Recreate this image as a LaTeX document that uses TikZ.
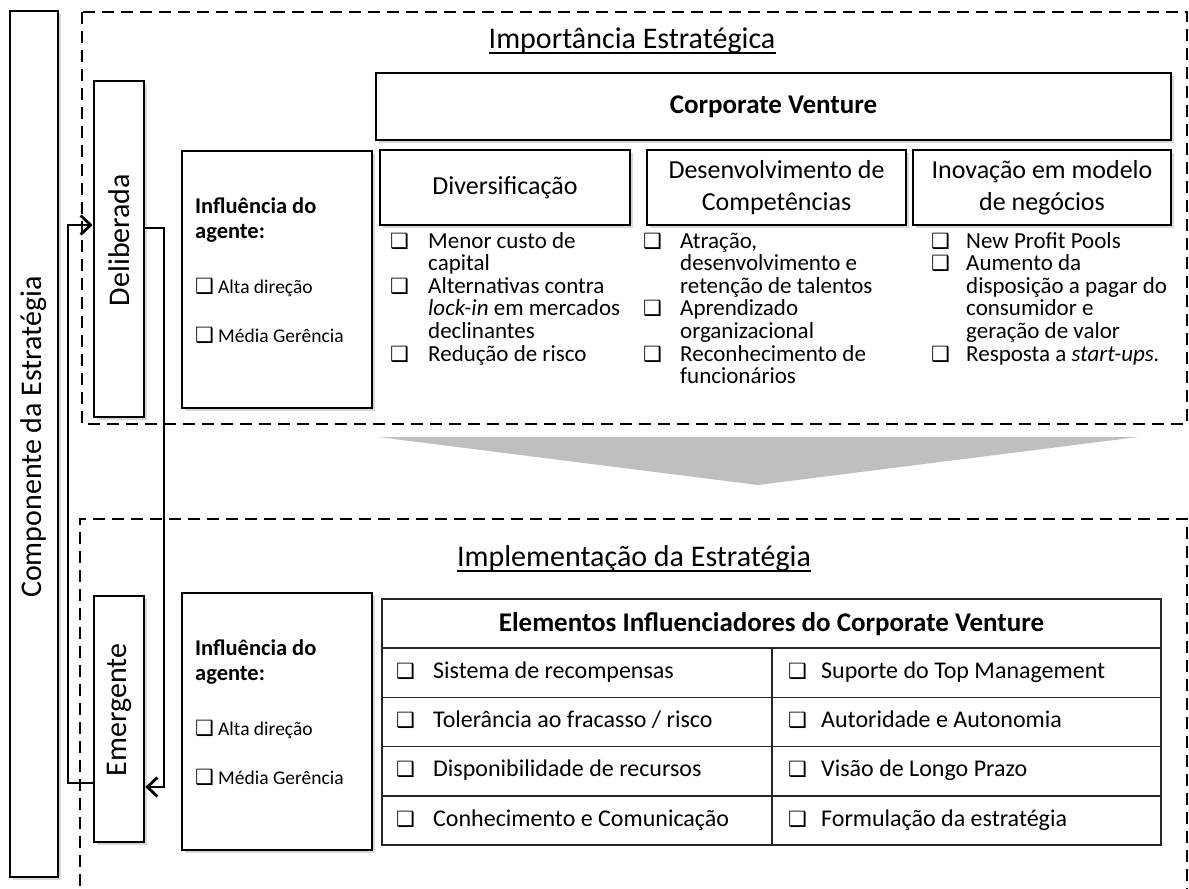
\documentclass[tikz,border=0pt]{standalone}
\usepackage{fontspec}
\setmainfont{Carlito}
\newfontfamily\symfont{DejaVu Sans}
\usepackage{graphicx}
\usetikzlibrary{arrows.meta,shadows}
\definecolor{arrowgray}{HTML}{BFBFBF}
\newcommand{\chk}{{\symfont\fontsize{21pt}{21pt}\selectfont ❑}}
% one bullet column: name, box x, text x, {flag/line,...}
\newcommand{\blist}[4]{%
  \foreach \c/\t [count=\i] in {#4}{
    \node[listtxt,anchor=base west] (#1\i) at (#3,225.4+22.6*\i) {\t};
    \ifnum\c=1 \node[listtxt,anchor=base west] (#1c\i) at (#2,225.4+22.6*\i) {\chk};\fi
  }}

\tikzset{
  sbox/.style={draw,line width=2.6pt,fill=white,inner sep=0pt,
    drop shadow={shadow xshift=2.5pt,shadow yshift=-2.5pt,opacity=.3}},
  dbox/.style={line width=2.8pt,dash pattern=on 12pt off 7pt},
  arr/.style={line width=2.8pt,-{Straight Barb[length=10pt,width=19pt]}},
  bigtxt/.style={font=\fontsize{30pt}{36pt}\selectfont,inner sep=0pt},
  vtxt/.style={font=\fontsize{30pt}{36pt}\selectfont},
  cvtxt/.style={font=\fontsize{26pt}{32pt}\selectfont,align=center},
  listtxt/.style={font=\fontsize{23pt}{26pt}\selectfont,inner sep=0pt},
  agbold/.style={font=\bfseries\fontsize{22.5pt}{25pt}\selectfont,inner sep=0pt},
  agopt/.style={font=\fontsize{19.5pt}{23pt}\selectfont,inner sep=0pt},
  rowtxt/.style={font=\fontsize{24pt}{28pt}\selectfont,inner sep=0pt},
  tline/.style={line width=1.5pt,black!85}
}

\begin{document}
\begin{tikzpicture}[x=1pt,y=-1pt]
  \useasboundingbox (0,0) rectangle (1189,889);
  \fill[white] (0,0) rectangle (1189,889);
  % dashed frames
  \draw[dbox] (82,12) rectangle (1187,424);
  \draw[dbox] (1187,900) -- (1187,519) -- (80,519) -- (80,900);
  \fill[arrowgray] (378,437) -- (1138,437) -- (758,485) -- cycle;
  % left column
  \node[sbox,vtxt,minimum width=48pt,minimum height=866pt] (comp) at (34,444)
    {\rotatebox{90}{\hspace*{14pt}Componente da Estratégia}};
  \node[sbox,vtxt,minimum width=50pt,minimum height=336pt] (delib) at (119,249)
    {\rotatebox{90}{\hspace*{18pt}Deliberada}};
  \node[sbox,vtxt,minimum width=50pt,minimum height=246pt] (emer) at (119,719)
    {\rotatebox{90}{\hspace*{18pt}Emergente}};
  \coordinate (bendL1) at (68,783);
  \coordinate (bendL2) at (68,225);
  \coordinate (bendR1) at (164,228);
  \coordinate (bendR2) at (164,787);
  \draw[arr] (emer.west |- bendL1) -- (bendL1) -- (bendL2) -- (delib.west |- bendL2);
  \draw[arr] (delib.east |- bendR1) -- (bendR1) -- (bendR2) -- (emer.east |- bendR2);
  % agent boxes
  \foreach \dy/\nm in {0/T,442/B}{
    \node[sbox,minimum width=190pt,minimum height=257pt] (ag\nm) at (277,279.5+\dy) {};
    \node[agbold,anchor=base west] (ag\nm a) at (195,213+\dy) {Influência do};
    \node[agbold,anchor=base west] (ag\nm b) at (195,238+\dy) {agente:};
    \node[agopt,anchor=base west] (ag\nm c) at (195,293+\dy)
      {\makebox[23pt][l]{\chk}Alta direção};
    \node[agopt,anchor=base west] (ag\nm d) at (195,342+\dy)
      {\makebox[23pt][l]{\chk}Média Gerência};
  }
  % strategic importance
  \node[bigtxt,anchor=base] (titTop) at (632,48) {Importância Estratégica};
  \draw[line width=1.3pt] ([yshift=-5pt]titTop.base west) -- ([yshift=-5pt]titTop.base east);
  \node[sbox,minimum width=795pt,minimum height=67pt,
    font=\bfseries\fontsize{27pt}{32pt}\selectfont] (cv) at (773.5,106.5) {Corporate Venture};
  \node[sbox,cvtxt,minimum width=250pt,minimum height=75pt] (div) at (505,187.5)
    {Diversificação};
  \node[sbox,cvtxt,minimum width=259pt,minimum height=75pt] (dev) at (776.5,187.5)
    {Desenvolvimento de\\Competências};
  \node[sbox,cvtxt,minimum width=258pt,minimum height=75pt] (ino) at (1042,187.5)
    {Inovação em modelo\\de negócios};
  \blist{divL}{390}{428}{1/{Menor custo de},0/capital,1/{Alternativas contra},
    0/{\textit{lock-in} em mercados},0/declinantes,1/{Redução de risco}}
  \blist{devL}{643}{680}{1/{Atração,},0/{desenvolvimento e},0/{retenção de talentos},
    1/Aprendizado,0/organizacional,1/{Reconhecimento de},0/funcionários}
  \blist{inoL}{931}{966}{1/{New Profit Pools},1/{Aumento da},0/{disposição a pagar do},
    0/{consumidor e},0/{geração de valor},1/{Resposta a \textit{start-ups.}}}
  % implementation
  \node[bigtxt,anchor=base] (titBot) at (634,566) {Implementação da Estratégia};
  \draw[line width=1.3pt] ([yshift=-5pt]titBot.base west) -- ([yshift=-5pt]titBot.base east);
  \draw[tline] (382,599) rectangle (1161,845);
  \foreach \y in {648,697.3,746.6,795.9}
    \draw[tline] (382,\y) -- (1161,\y);
  \draw[tline] (772,648) -- (772,845);
  \node[font=\bfseries\fontsize{27pt}{30pt}\selectfont] (tabHead) at (771.5,624)
    {Elementos Influenciadores do Corporate Venture};
  \foreach \l/\r [count=\i] in {{Sistema de recompensas}/{Suporte do Top Management},
      {Tolerância ao fracasso / risco}/{Autoridade e Autonomia},
      {Disponibilidade de recursos}/{Visão de Longo Prazo},
      {Conhecimento e Comunicação}/{Formulação da estratégia}}{
    \node[rowtxt,anchor=base west] (chkL\i) at (396,629+49.3*\i) {\chk};
    \node[rowtxt,anchor=base west] (rowL\i) at (433,629+49.3*\i) {\l};
    \node[rowtxt,anchor=base west] (chkR\i) at (788,629+49.3*\i) {\chk};
    \node[rowtxt,anchor=base west] (rowR\i) at (821,629+49.3*\i) {\r};
  }
\end{tikzpicture}
\end{document}
